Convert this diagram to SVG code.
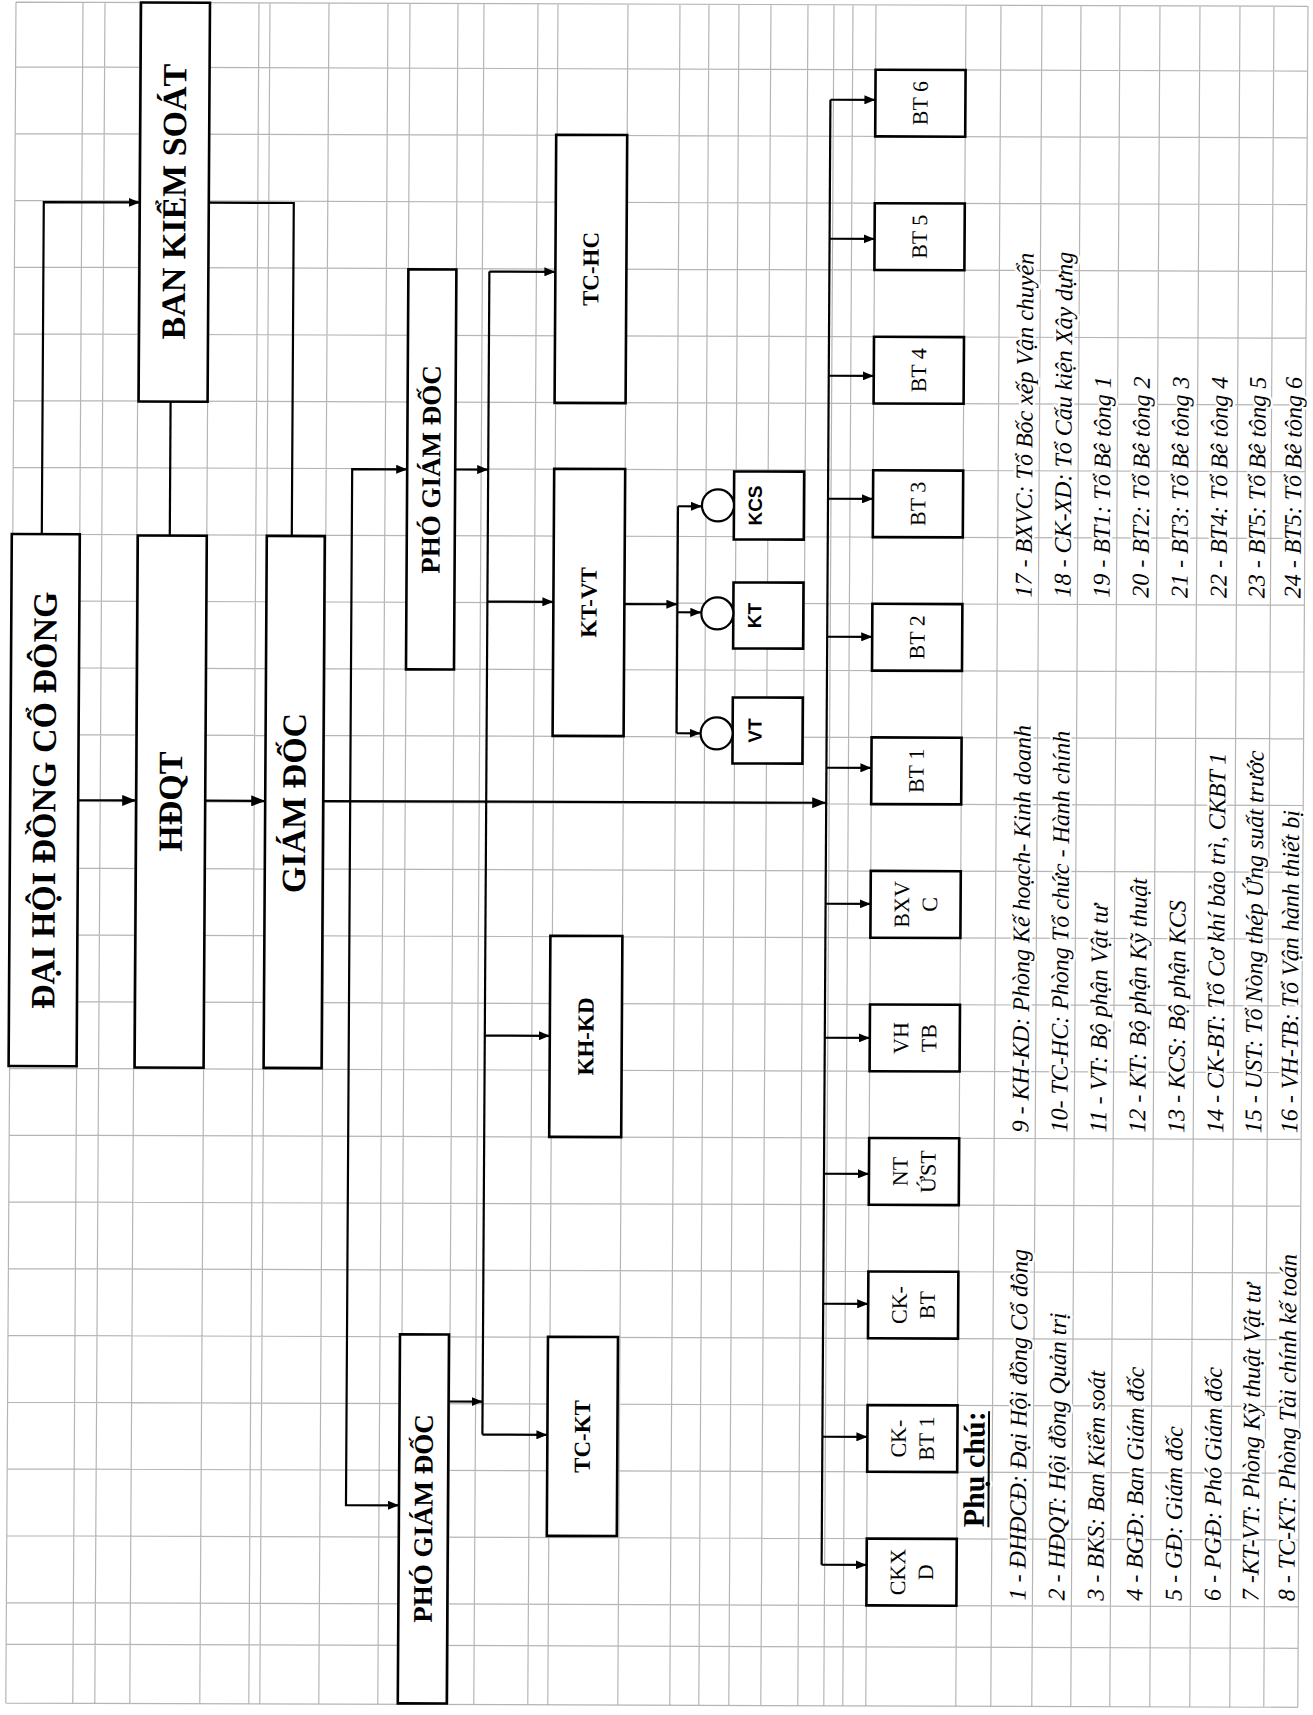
<svg xmlns="http://www.w3.org/2000/svg" width="1313" height="1715" viewBox="0 0 1313 1715">
<defs>
<style>
.grid{fill:none;stroke:#b5b5b5;stroke-width:1.2}
.box{fill:#fff;stroke:#000;stroke-width:2.6}
.circ{fill:#fff;stroke:#000;stroke-width:2.2}
.conn path{fill:none;stroke:#000;stroke-width:2.2}
.a{marker-end:url(#ah)}
.b{marker-end:url(#ahb)}
.tb{font-family:"Liberation Serif","Times New Roman",serif;font-weight:bold;fill:#000}
.tr{font-family:"Liberation Serif","Times New Roman",serif;font-size:22px;fill:#000}
.ts{font-family:"Liberation Sans",Arial,sans-serif;font-weight:bold;font-size:19px;fill:#000}
.halo{stroke:#fff;stroke-width:5;stroke-linejoin:round;paint-order:stroke fill}
.leg{font-family:"Liberation Serif","Times New Roman",serif;font-style:italic;font-size:24px;fill:#000}
</style>
<marker id="ah" viewBox="0 0 11 9" refX="11" refY="4.5" markerWidth="11" markerHeight="9" markerUnits="userSpaceOnUse" orient="auto"><path d="M0,0L11,4.5L0,9z"/></marker>
<marker id="ahb" viewBox="0 0 14 11" refX="14" refY="5.5" markerWidth="14" markerHeight="11" markerUnits="userSpaceOnUse" orient="auto"><path d="M0,0L14,5.5L0,11z"/></marker>
</defs>
<rect width="1313" height="1715" fill="#fff"/>
<g transform="matrix(1 0.0033 -0.006 1 0 0)">
<g id="grid">
<path class="grid" d="M16 2H1308M16 66.8H1308M16 133.5H1308M16 200.3H1308M16 267.1H1308M16 333.9H1308M16 400.6H1308M16 467.4H1308M16 534.2H1308M16 600.9H1308M16 667.7H1308M16 734.5H1308M16 801.2H1308M16 868H1308M16 934.8H1308M16 1001.6H1308M16 1068.3H1308M16 1135.1H1308M16 1201.9H1308M16 1268.6H1308M16 1335.4H1308M16 1402.2H1308M16 1468.9H1308M16 1535.7H1308M16 1602.5H1308M16 1644H1308M16 1703H1308
M16 2V1703M83 2V1703M105 2V1703M140 2V1703M210 2V1703M259 2V1703M270 2V1703M329 2V1703M388 2V1703M410 2V1703M458 2V1703M484 2V1703M538 2V1703M558 2V1703M628 2V1703M680 2V1703M709 2V1703M739 2V1703M771 2V1703M808 2V1703M834 2V1703M853 2V1703M876 2V1703M966 2V1703M1001 2V1703M1042 2V1703M1081 2V1703M1120 2V1703M1160 2V1703M1200 2V1703M1240 2V1703M1274 2V1703M1308 2V1703"/>
</g>

<g id="connectors" class="conn">
<path class="a" d="M45 534V202H141"/>
<path d="M173 535V401"/>
<path d="M210 202H295V535"/>
<path class="b" d="M83 800H141"/>
<path class="b" d="M210 800H270"/>
<path class="b" d="M328 800H831"/>
<path class="a" d="M355 800V468H410"/>
<path class="a" d="M355 800V1504H408"/>
<path class="a" d="M458 468H491"/>
<path class="a" d="M457 1400H491"/>
<path d="M491 270V1433"/>
<path class="a" d="M491 270H557"/>
<path class="a" d="M491 600H557"/>
<path class="a" d="M491 1034H556"/>
<path class="a" d="M491 1433H556"/>
<path class="a" d="M628 602H681"/>
<path d="M681 504V731"/>
<path class="a" d="M681 504H705"/>
<path class="a" d="M681 610H705"/>
<path class="a" d="M681 731H705"/>
<path d="M831 97V1562"/>
<path class="a" d="M831 97H876"/>
<path class="a" d="M831 236H876"/>
<path class="a" d="M831 373H876"/>
<path class="a" d="M831 496H876"/>
<path class="a" d="M831 634H876"/>
<path class="a" d="M831 765H876"/>
<path class="a" d="M831 901H876"/>
<path class="a" d="M831 1035H876"/>
<path class="a" d="M831 1171H876"/>
<path class="a" d="M831 1301H876"/>
<path class="a" d="M831 1434H876"/>
<path class="a" d="M831 1562H876"/>
</g>

<g id="dhdcd"><rect class="box" x="15" y="534" width="68" height="532"/>
<text class="tb" font-size="34" text-anchor="middle" dy=".33em" transform="translate(49 800) rotate(-90)">ĐẠI HỘI ĐỒNG CỔ ĐÔNG</text></g>
<g id="bks"><rect class="box" x="141" y="2" width="69" height="399"/>
<text class="tb" font-size="34" text-anchor="middle" dy=".33em" transform="translate(175.5 201) rotate(-90)">BAN KIỂM SOÁT</text></g>
<g id="hdqt"><rect class="box" x="141" y="535" width="69" height="532"/>
<text class="tb" font-size="34" text-anchor="middle" dy=".33em" transform="translate(175.5 801) rotate(-90)">HĐQT</text></g>
<g id="gd"><rect class="box" x="270" y="535" width="58" height="532"/>
<text class="tb" font-size="34" text-anchor="middle" dy=".33em" transform="translate(299 802) rotate(-90)">GIÁM ĐỐC</text></g>
<g id="pgd1"><rect class="box" x="410" y="268" width="48" height="400"/>
<text class="tb" font-size="27" text-anchor="middle" dy=".33em" transform="translate(434 468) rotate(-90)">PHÓ GIÁM ĐỐC</text></g>
<g id="pgd2"><rect class="box" x="408" y="1333" width="49" height="369"/>
<text class="tb" font-size="27" text-anchor="middle" dy=".33em" transform="translate(432.5 1517) rotate(-90)">PHÓ GIÁM ĐỐC</text></g>
<g id="tchc"><rect class="box" x="557" y="133" width="71" height="268"/>
<text class="tb" font-size="23" text-anchor="middle" dy=".33em" transform="translate(592.5 267) rotate(-90)">TC-HC</text></g>
<g id="ktvt"><rect class="box" x="557" y="467" width="71" height="267"/>
<text class="tb" font-size="23" text-anchor="middle" dy=".33em" transform="translate(592.5 600.5) rotate(-90)">KT-VT</text></g>
<g id="khkd"><rect class="box" x="556" y="934" width="72" height="201"/>
<text class="tb" font-size="23" text-anchor="middle" dy=".33em" transform="translate(592 1034.5) rotate(-90)">KH-KD</text></g>
<g id="tckt"><rect class="box" x="556" y="1335" width="70" height="199"/>
<text class="tb" font-size="23" text-anchor="middle" dy=".33em" transform="translate(591 1434.5) rotate(-90)">TC-KT</text></g>

<g id="kcs"><rect class="box" x="737" y="469" width="70" height="68"/><circle class="circ" cx="721" cy="503" r="16"/>
<text class="ts" text-anchor="middle" dy=".36em" transform="translate(758 503) rotate(-90)">KCS</text></g>
<g id="kt"><rect class="box" x="737" y="580" width="70" height="66"/><circle class="circ" cx="721" cy="611" r="16"/>
<text class="ts" text-anchor="middle" dy=".36em" transform="translate(758 613) rotate(-90)">KT</text></g>
<g id="vt"><rect class="box" x="737" y="695" width="70" height="66"/><circle class="circ" cx="721" cy="731" r="16"/>
<text class="ts" text-anchor="middle" dy=".36em" transform="translate(759 728) rotate(-90)">VT</text></g>

<g id="bt6"><rect class="box" x="876" y="66.8" width="90" height="66.7"/>
<text class="tr" text-anchor="middle" dy=".33em" transform="translate(921 100) rotate(-90)">BT 6</text></g>
<g id="bt5"><rect class="box" x="876" y="200.3" width="90" height="66.8"/>
<text class="tr" text-anchor="middle" dy=".33em" transform="translate(921 233.7) rotate(-90)">BT 5</text></g>
<g id="bt4"><rect class="box" x="876" y="333.9" width="90" height="66.7"/>
<text class="tr" text-anchor="middle" dy=".33em" transform="translate(921 367.2) rotate(-90)">BT 4</text></g>
<g id="bt3"><rect class="box" x="876" y="467.4" width="90" height="66.8"/>
<text class="tr" text-anchor="middle" dy=".33em" transform="translate(921 500.8) rotate(-90)">BT 3</text></g>
<g id="bt2"><rect class="box" x="876" y="600.9" width="90" height="66.8"/>
<text class="tr" text-anchor="middle" dy=".33em" transform="translate(921 634.3) rotate(-90)">BT 2</text></g>
<g id="bt1"><rect class="box" x="876" y="734.5" width="90" height="66.7"/>
<text class="tr" text-anchor="middle" dy=".33em" transform="translate(921 767.9) rotate(-90)">BT 1</text></g>
<g id="bxvc"><rect class="box" x="876" y="868" width="90" height="66.8"/>
<text class="tr" text-anchor="middle" transform="translate(921 901.4) rotate(-90)"><tspan x="0" y="-6.5">BXV</tspan><tspan x="0" y="21.5">C</tspan></text></g>
<g id="vhtb"><rect class="box" x="876" y="1001.6" width="90" height="66.7"/>
<text class="tr" text-anchor="middle" transform="translate(921 1035) rotate(-90)"><tspan x="0" y="-6.5">VH</tspan><tspan x="0" y="21.5">TB</tspan></text></g>
<g id="ntust"><rect class="box" x="876" y="1135.1" width="90" height="66.8"/>
<text class="tr" text-anchor="middle" transform="translate(921 1168.5) rotate(-90)"><tspan x="0" y="-6.5">NT</tspan><tspan x="0" y="21.5">ỨST</tspan></text></g>
<g id="ckbt"><rect class="box" x="876" y="1268.6" width="90" height="66.8"/>
<text class="tr" text-anchor="middle" transform="translate(921 1302) rotate(-90)"><tspan x="0" y="-6.5">CK-</tspan><tspan x="0" y="21.5">BT</tspan></text></g>
<g id="ckbt1"><rect class="box" x="876" y="1402.2" width="90" height="66.7"/>
<text class="tr" text-anchor="middle" transform="translate(921 1435.6) rotate(-90)"><tspan x="0" y="-6.5">CK-</tspan><tspan x="0" y="21.5">BT 1</tspan></text></g>
<g id="ckxd"><rect class="box" x="876" y="1535.7" width="90" height="66.8"/>
<text class="tr" text-anchor="middle" transform="translate(921 1569.1) rotate(-90)"><tspan x="0" y="-6.5">CKX</tspan><tspan x="0" y="21.5">D</tspan></text></g>

<g id="legend">
<text class="tb halo" font-size="30" text-anchor="middle" transform="translate(993 1466) rotate(-90)">Phụ chú:</text>
<path d="M997.5 1408V1524" stroke="#000" stroke-width="2"/>
<g class="leg halo">
<text transform="translate(1035 1597) rotate(-90)">1 - ĐHĐCĐ: Đại Hội đồng Cổ đông</text>
<text transform="translate(1074 1597) rotate(-90)">2 - HĐQT: Hội đồng Quản trị</text>
<text transform="translate(1113 1597) rotate(-90)">3 - BKS: Ban Kiểm soát</text>
<text transform="translate(1152 1597) rotate(-90)">4 - BGĐ: Ban Giám đốc</text>
<text transform="translate(1191 1597) rotate(-90)">5 - GĐ: Giám đốc</text>
<text transform="translate(1230 1597) rotate(-90)">6 - PGĐ: Phó Giám đốc</text>
<text transform="translate(1268 1597) rotate(-90)">7 -KT-VT:  Phòng Kỹ thuật Vật tư</text>
<text transform="translate(1304 1597) rotate(-90)">8 - TC-KT: Phòng Tài chính kế toán</text>
<text transform="translate(1035 1129) rotate(-90)">9 - KH-KD: Phòng Kế hoạch- Kinh doanh</text>
<text transform="translate(1074 1129) rotate(-90)">10- TC-HC: Phòng Tổ chức - Hành chính</text>
<text transform="translate(1113 1129) rotate(-90)">11 - VT: Bộ phận Vật tư</text>
<text transform="translate(1152 1129) rotate(-90)">12 - KT: Bộ phận Kỹ thuật</text>
<text transform="translate(1191 1129) rotate(-90)">13 - KCS: Bộ phận KCS</text>
<text transform="translate(1230 1129) rotate(-90)">14 - CK-BT: Tổ Cơ khí bảo trì, CKBT 1</text>
<text transform="translate(1268 1129) rotate(-90)">15 - UST: Tổ Nòng thép Ứng suất trước</text>
<text transform="translate(1304 1129) rotate(-90)">16 - VH-TB: Tổ Vận hành thiết bị</text>
<text transform="translate(1035 594) rotate(-90)">17 - BXVC: Tổ Bốc xếp Vận chuyển</text>
<text transform="translate(1074 594) rotate(-90)">18 - CK-XD: Tổ Cấu kiện Xây dựng</text>
<text transform="translate(1113 594) rotate(-90)">19 - BT1: Tổ Bê tông 1</text>
<text transform="translate(1152 594) rotate(-90)">20 - BT2: Tổ Bê tông 2</text>
<text transform="translate(1191 594) rotate(-90)">21 - BT3: Tổ Bê tông 3</text>
<text transform="translate(1230 594) rotate(-90)">22 - BT4: Tổ Bê tông 4</text>
<text transform="translate(1268 594) rotate(-90)">23 - BT5: Tổ Bê tông 5</text>
<text transform="translate(1304 594) rotate(-90)">24 - BT5: Tổ Bê tông 6</text>
</g>
</g>
</g>
</svg>
